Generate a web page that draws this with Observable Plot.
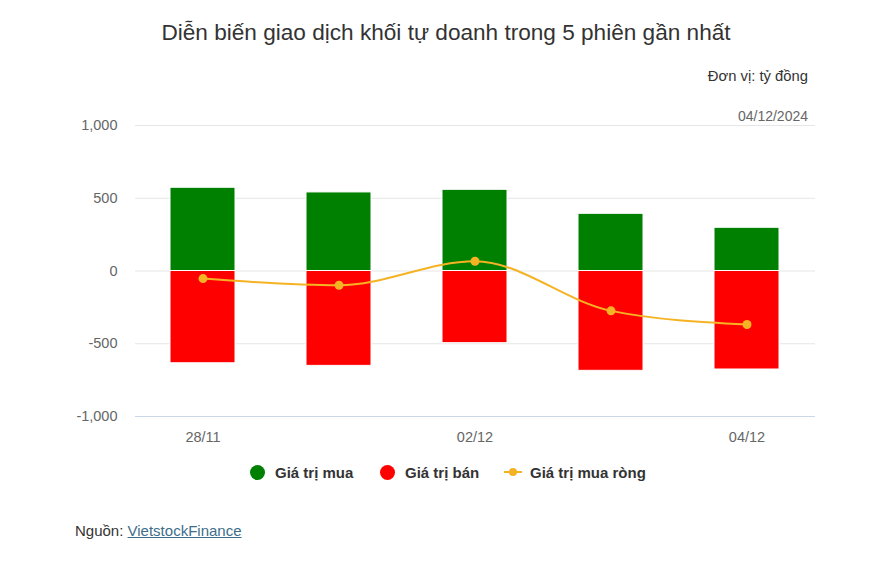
<!DOCTYPE html>
<html>
<head>
<meta charset="utf-8">
<script src="https://cdn.jsdelivr.net/npm/d3@7"></script>
<script src="https://cdn.jsdelivr.net/npm/@observablehq/plot@0.6"></script>
<style>
  html, body { margin: 0; padding: 0; background: #fff; }
  body { font-family: Arial, "Liberation Sans", sans-serif; }
  #wrap { position: relative; width: 881px; height: 571px; overflow: hidden; background: #fff; }
  .abs { position: absolute; white-space: nowrap; }
  #title { left: 0; width: 892px; top: 20px; text-align: center; font-size: 22.6px; color: #333; }
  #unit { right: 73px; top: 68px; font-size: 14.8px; color: #333; z-index: 2; }
  #date { right: 73px; top: 108px; font-size: 14px; color: #666; z-index: 2; }
  #chart { left: 0; top: 100px; z-index: 1; }
  #legend { left: 0; top: 462px; width: 881px; height: 22px; font-size: 15px; font-weight: bold; color: #333; }
  .li { position: absolute; top: 0; display: flex; align-items: center; height: 20px; }
  .dot { width: 15px; height: 15px; border-radius: 50%; margin-right: 10px; }
  #source { left: 75px; top: 522px; font-size: 15px; color: #333; }
  #source a { color: #3d6e8a; text-decoration: underline; }
</style>
</head>
<body>
<div id="wrap">
  <div id="title" class="abs">Diễn biến giao dịch khối tự doanh trong 5 phiên gần nhất</div>
  <div id="chart" class="abs"></div>
  <div id="unit" class="abs">Đơn vị: tỷ đồng</div>
  <div id="date" class="abs">04/12/2024</div>
  <div id="legend" class="abs"></div>
  <div id="source" class="abs">Nguồn: <a href="#">VietstockFinance</a></div>
</div>
<script>
const dates = ["28/11", "29/11", "02/12", "03/12", "04/12"];
const buyValues = [572, 540, 558, 393, 297];
const sellValues = [-634, -652, -496, -686, -677];
const netValues = [-52, -98, 67, -274, -368];
const yTicks = [-1000, -500, 0, 500, 1000];
const xTickLabels = ["28/11", "02/12", "04/12"];
const seriesNames = ["Giá trị mua", "Giá trị bán", "Giá trị mua ròng"];
const seriesColors = ["#008000", "#ff0000", "#f5b324"];

const buy = dates.map((d, i) => ({date: d, value: buyValues[i]}));
const sell = dates.map((d, i) => ({date: d, value: sellValues[i]}));
const net = dates.map((d, i) => ({date: d, value: netValues[i]}));

const chart = Plot.plot({
  width: 881,
  height: 350,
  marginLeft: 135,
  marginRight: 66,
  marginTop: 25,
  marginBottom: 34,
  style: {fontFamily: "Arial, 'Liberation Sans', sans-serif", fontSize: "14.5px", color: "#666", background: "transparent"},
  x: {domain: dates, paddingInner: 0.52, paddingOuter: 0.26, align: 0.5, label: null, ticks: xTickLabels, tickSize: 0, tickPadding: 15},
  y: {domain: [-1000, 1000], ticks: yTicks, label: null, tickSize: 0, tickPadding: 18,
      tickFormat: d => d3.format(",")(d).replace("−", "-")},
  marks: [
    Plot.ruleY(yTicks.filter(t => t !== -1000), {stroke: "#e6e6e6", strokeWidth: 1}),
    Plot.ruleY([-1000], {stroke: "#ccd6eb", strokeWidth: 1}),
    Plot.barY(buy, {x: "date", y: "value", fill: seriesColors[0], stroke: "#fff", strokeWidth: 1}),
    Plot.barY(sell, {x: "date", y: "value", fill: seriesColors[1], stroke: "#fff", strokeWidth: 1}),
    Plot.line(net, {x: "date", y: "value", stroke: seriesColors[2], strokeWidth: 2, curve: "monotone-x"}),
    Plot.dot(net, {x: "date", y: "value", fill: seriesColors[2], r: 4.5})
  ]
});
document.getElementById("chart").appendChild(chart);

const legend = document.getElementById("legend");
const legendLeft = [250, 380, 504];
seriesNames.forEach((name, i) => {
  const item = document.createElement("div");
  item.className = "li";
  item.style.left = legendLeft[i] + "px";
  if (i < 2) {
    const dot = document.createElement("span");
    dot.className = "dot";
    dot.style.background = seriesColors[i];
    item.appendChild(dot);
  } else {
    const svgNS = "http://www.w3.org/2000/svg";
    const s = document.createElementNS(svgNS, "svg");
    s.setAttribute("width", 18); s.setAttribute("height", 12);
    s.style.marginRight = "8px";
    const l = document.createElementNS(svgNS, "line");
    l.setAttribute("x1", 0); l.setAttribute("x2", 18); l.setAttribute("y1", 6); l.setAttribute("y2", 6);
    l.setAttribute("stroke", seriesColors[i]); l.setAttribute("stroke-width", 2);
    const c = document.createElementNS(svgNS, "circle");
    c.setAttribute("cx", 9); c.setAttribute("cy", 6); c.setAttribute("r", 4);
    c.setAttribute("fill", seriesColors[i]);
    s.appendChild(l); s.appendChild(c);
    item.appendChild(s);
  }
  const t = document.createElement("span");
  t.textContent = name;
  item.appendChild(t);
  legend.appendChild(item);
});
</script>
</body>
</html>
